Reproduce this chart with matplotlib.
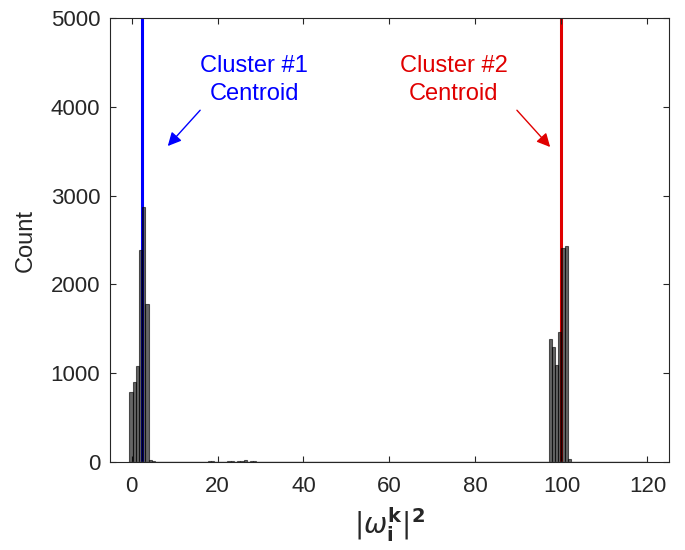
import matplotlib.pyplot as plt

# histogram bins (left edge) and counts around each cluster
bin_width = 0.75
c1_left = [-0.5, 0.25, 1.0, 1.75, 2.5, 3.25, 4.0, 4.75]
c1_count = [790, 900, 1080, 2390, 2870, 1780, 25, 8]
mid_left = [17.8, 18.55, 22.3, 23.05, 24.55, 25.3, 26.05, 27.55, 28.3]
mid_count = [15, 12, 10, 12, 15, 12, 18, 10, 8]
c2_left = [97.0, 97.75, 98.5, 99.25, 100.0, 100.75, 101.5]
c2_count = [1380, 1300, 1090, 1470, 2410, 2430, 30]

centroid1 = 2.4
centroid2 = 99.8

plt.rcParams['font.family'] = ['Liberation Sans', 'DejaVu Sans']
plt.rcParams['mathtext.fontset'] = 'dejavusans'

fig = plt.figure(figsize=(6.85, 5.5), dpi=100)
ax = fig.add_axes([0.1606, 0.160, 0.816, 0.807])

# centroid lines sit behind the semi-transparent bars
ax.plot([centroid1, centroid1], [0, 5000], color='#0000ff', lw=2.2, zorder=1)
ax.plot([centroid2, centroid2], [0, 5000], color='#e00000', lw=2.2, zorder=1)

for left, count in [(c1_left, c1_count), (mid_left, mid_count), (c2_left, c2_count)]:
    ax.bar(left, count, width=bin_width, align='edge', color='black', alpha=0.6,
           edgecolor='black', linewidth=0.8, zorder=2)
# zero-height bins show up as a dark baseline
ax.plot([-0.5, 120], [0, 0], color='#555555', lw=1.0, zorder=2)

ax.set_xlim(-5, 125)
ax.set_ylim(0, 5000)
ax.set_xticks(range(0, 121, 20))
ax.set_yticks(range(0, 5001, 1000))
ax.tick_params(direction='in', length=4, top=True, right=True, labelsize=16,
               colors='#262626', width=0.8)
ax.tick_params(axis='x', pad=10)
ax.tick_params(axis='y', pad=7)
for s in ax.spines.values():
    s.set_color('#262626')
    s.set_linewidth(0.8)

ax.set_ylabel('Count', fontsize=17, color='#262626', labelpad=10)
ax.set_xlabel(r'$|\omega_{\mathbf{i}}^{\mathbf{k}}|^{\mathbf{2}}$', fontsize=20,
              color='#262626', labelpad=6)

ax.text(28.5, 4300, 'Cluster #1\nCentroid', color='#0000ff', fontsize=17,
        ha='center', va='center', linespacing=1.35)
ax.annotate('', xy=(8.0, 3536), xytext=(16.4, 3986),
            arrowprops=dict(arrowstyle='-|>', color='#0000ff', lw=1.0, mutation_scale=20))
ax.text(75.0, 4300, 'Cluster #2\nCentroid', color='#e00000', fontsize=17,
        ha='center', va='center', linespacing=1.35)
ax.annotate('', xy=(97.8, 3525), xytext=(89.2, 3986),
            arrowprops=dict(arrowstyle='-|>', color='#e00000', lw=1.0, mutation_scale=20))

plt.savefig('out.png', dpi=100)
